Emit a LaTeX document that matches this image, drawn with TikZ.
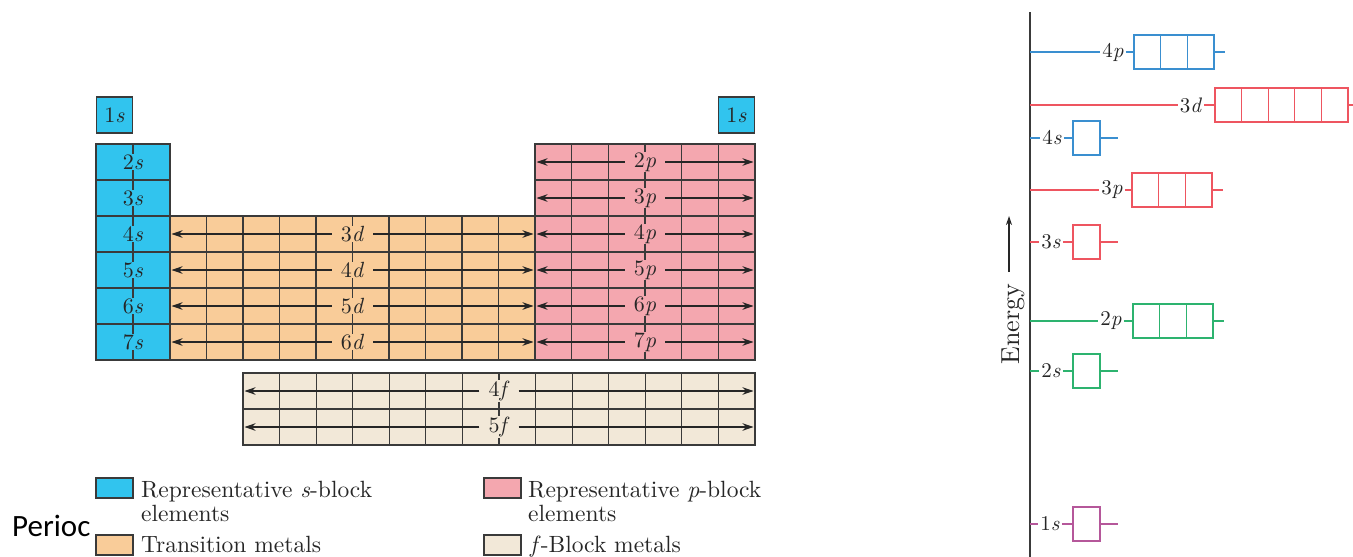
\documentclass[tikz,border=0pt]{standalone}
\usepackage{fontspec}
\setmainfont{lmroman10-regular.otf}[ItalicFont=lmroman10-italic.otf, BoldFont=lmroman10-bold.otf]
\newfontfamily\perfont{Carlito}
\usetikzlibrary{arrows.meta}
\definecolor{sblk}{HTML}{31C4EE}
\definecolor{dblk}{HTML}{F9CC99}
\definecolor{pblk}{HTML}{F4A7AF}
\definecolor{fblk}{HTML}{F2E8D8}
\definecolor{gridc}{HTML}{3A3A3A}
\definecolor{txtc}{HTML}{262626}
\definecolor{eblue}{HTML}{3A8FD0}
\definecolor{ered}{HTML}{EE5560}
\definecolor{egreen}{HTML}{2DB36F}
\definecolor{epurple}{HTML}{B5579A}
\newcommand\plev[9]{%
  \coordinate (#1ax) at (1030,#3);
  \node[elab] (#1l) at (#4,#3) {#5};
  \foreach \k in {1,...,#7} \node[ob, draw=#2, minimum width=#8] (#1b\k) at ({#6+#8*(\k-0.5)},#3) {};
  \coordinate (#1r) at (#9,#3);
  \draw[lev,#2] (#1ax) -- (#1l);
  \draw[lev,#2] (#1l) -- (#1b1);
  \draw[lev,#2] (#1b#7) -- (#1r);
}
\begin{document}
\begin{tikzpicture}[x=1pt,y=-1pt,
  grid/.style={draw=gridc, line width=1.2pt},
  arr/.style={draw=txtc, line width=1.1pt, -{Stealth[length=11pt,width=7.5pt]}, shorten >=1.5pt},
  lab/.style={font=\fontsize{22}{22}\selectfont, text=txtc, inner xsep=9pt, inner ysep=0.5pt},
  slab/.style={font=\fontsize{22}{22}\selectfont, text=txtc, inner xsep=2pt, inner ysep=0.5pt},
  ob/.style={rectangle, minimum height=34pt, inner sep=0pt, line width=1.3pt},
  elab/.style={font=\fontsize{21}{21}\selectfont, text=txtc, inner xsep=2pt, inner ysep=0pt},
  lev/.style={line width=1.3pt},
  sw/.style={draw=gridc, line width=1.2pt, minimum width=37pt, minimum height=20pt, inner sep=0pt},
  legt/.style={font=\fontsize{23.5}{23.5}\selectfont, text=txtc, inner sep=0pt, anchor=base west}]
\useasboundingbox (0,0) rectangle (1353,557);

% ---------- s-block ----------
\node[draw=gridc, line width=1.2pt, fill=sblk, minimum size=36pt, inner sep=0pt, font=\fontsize{22}{22}\selectfont, text=txtc] (h1) at (114.5,115) {1\textit{s}};
\node[draw=gridc, line width=1.2pt, fill=sblk, minimum size=36pt, inner sep=0pt, font=\fontsize{22}{22}\selectfont, text=txtc] (he1) at (736.5,115) {1\textit{s}};
\fill[sblk] (96,144) rectangle (170,360);
\foreach \y in {180,216,...,324} \draw[grid] (96,\y) -- (170,\y);
\draw[grid] (133,144) -- (133,360);
\draw[grid] (96,144) rectangle (170,360);
\foreach \n [count=\i from 0] in {2,...,7}
  \node[slab, fill=sblk] (s\n) at (133,{162+36*\i}) {\n\textit{s}};

% ---------- d-block ----------
\fill[dblk] (170,216) rectangle (535,360);
\foreach \k in {1,...,9} \draw[grid] ({170+36.5*\k},216) -- ({170+36.5*\k},360);
\foreach \y in {252,288,324} \draw[grid] (170,\y) -- (535,\y);
\draw[grid] (170,216) rectangle (535,360);

% ---------- p-block ----------
\fill[pblk] (535,144) rectangle (755,360);
\foreach \k in {1,...,5} \draw[grid] ({535+36.667*\k},144) -- ({535+36.667*\k},360);
\foreach \y in {180,216,...,324} \draw[grid] (535,\y) -- (755,\y);
\draw[grid] (535,144) rectangle (755,360);

% ---------- f-block ----------
\fill[fblk] (243,373) rectangle (755,445);
\foreach \k in {1,...,13} \draw[grid] ({243+36.571*\k},373) -- ({243+36.571*\k},445);
\draw[grid] (243,409) -- (755,409);
\draw[grid] (243,373) rectangle (755,445);

% ---------- labels and arrows ----------
\foreach \n [count=\i from 0] in {3,...,6} {
  \node[lab, fill=dblk] (d\n) at (352.5,{234+36*\i}) {\n\textit{d}};
  \coordinate (dL\n) at (170,{234+36*\i});
  \coordinate (dR\n) at (535,{234+36*\i});
  \draw[arr] (d\n) -- (dL\n);
  \draw[arr] (d\n) -- (dR\n);
}
\foreach \n [count=\i from 0] in {2,...,7} {
  \node[lab, fill=pblk] (p\n) at (645,{162+36*\i}) {\n\textit{p}};
  \coordinate (pL\n) at (535,{162+36*\i});
  \coordinate (pR\n) at (755,{162+36*\i});
  \draw[arr] (p\n) -- (pL\n);
  \draw[arr] (p\n) -- (pR\n);
}
\foreach \n [count=\i from 0] in {4,5} {
  \node[lab, fill=fblk] (f\n) at (499,{391+36*\i}) {\n\textit{f}};
  \coordinate (fL\n) at (243,{391+36*\i});
  \coordinate (fR\n) at (755,{391+36*\i});
  \draw[arr] (f\n) -- (fL\n);
  \draw[arr] (f\n) -- (fR\n);
}

% ---------- legend ----------
\node[font=\perfont\fontsize{31}{31}\selectfont, text=black, inner sep=0pt, anchor=base west] (per) at (12,536) {Perioc};
\node[sw, fill=sblk] (sws) at (114.5,488) {};
\node[legt] (ts1) at (141,497) {Representative \textit{s}-block};
\node[legt] (ts2) at (141,521) {elements};
\node[sw, fill=dblk] (swd) at (114.5,545) {};
\node[legt] (td) at (141,552) {Transition metals};
\node[sw, fill=pblk] (swp) at (502.5,488) {};
\node[legt] (tp1) at (528,497) {Representative \textit{p}-block};
\node[legt] (tp2) at (528,521) {elements};
\node[sw, fill=fblk] (swf) at (502.5,545) {};
\node[legt] (tf) at (530,552) {\textit{f}-Block metals};

% ---------- energy diagram ----------
\coordinate (axT) at (1030,12);
\coordinate (axB) at (1030,557);
\draw[draw=gridc, line width=1.2pt] (axT) -- (axB);
\node[rotate=90, font=\fontsize{26}{26}\selectfont, text=txtc, inner sep=0pt] (en) at (1013,324) {Energy};
\coordinate (enB) at (1009,272);
\coordinate (enT) at (1009,216);
\draw[draw=txtc, line width=1.1pt, -{Stealth[length=9pt,width=6pt]}] (enB) -- (enT);

\plev{l4p}{eblue}{52}{1113}{4\textit{p}}{1134}{3}{26.67}{1225}
\plev{l3d}{ered}{105}{1191}{3\textit{d}}{1215}{5}{26.6}{1353}
\plev{l4s}{eblue}{138}{1052}{4\textit{s}}{1073}{1}{27}{1118}
\plev{l3p}{ered}{190}{1112}{3\textit{p}}{1132}{3}{26.67}{1223}
\plev{l3s}{ered}{242}{1051}{3\textit{s}}{1073}{1}{27}{1118}
\plev{l2p}{egreen}{321}{1111}{2\textit{p}}{1133}{3}{26.67}{1224}
\plev{l2s}{egreen}{371}{1051}{2\textit{s}}{1073}{1}{27}{1118}
\plev{l1s}{epurple}{524}{1050}{1\textit{s}}{1073}{1}{27}{1118}
\end{tikzpicture}
\end{document}
